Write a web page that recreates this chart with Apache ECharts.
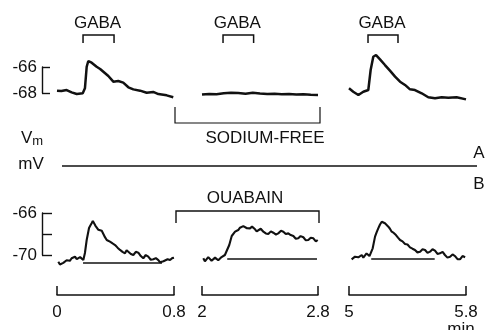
<!DOCTYPE html>
<html><head><meta charset="utf-8">
<script src="https://cdn.jsdelivr.net/npm/echarts@6/dist/echarts.min.js"></script>
<style>html,body{margin:0;padding:0;background:#fff}#c{width:487px;height:330px}</style>
</head><body><div id="c"></div>
<script>
// ---- data (time in min, membrane potential in mV) ----
const segStarts = [0, 2, 5];
const segLabelsB = [[0, 0.8], [2, 2.8], [5, 5.8]];
const gabaWindows = [[0.178, 0.39], [2.145, 2.356], [5.13, 5.335]];
const scaleTicksA = [-68, -66];
const scaleTicksB = [-70, -68, -66];

const traceA1 = [[0,-67.82],[0.03,-67.85],[0.066,-67.77],[0.1,-67.95],[0.135,-68.08],[0.176,-68.02],[0.191,-67.64],[0.203,-65.98],[0.214,-65.54],[0.237,-65.67],[0.271,-65.98],[0.295,-66.15],[0.317,-66.36],[0.351,-66.69],[0.385,-67.13],[0.419,-67.08],[0.453,-67.2],[0.488,-67.56],[0.522,-67.72],[0.568,-67.82],[0.613,-67.98],[0.658,-67.92],[0.693,-68.08],[0.75,-68.18],[0.795,-68.33]];
const traceA2 = [[2.0,-68.12],[2.05,-68.08],[2.1,-68.1],[2.15,-68.02],[2.2,-67.98],[2.25,-68.0],[2.3,-68.05],[2.35,-67.98],[2.4,-68.04],[2.45,-68.08],[2.5,-68.05],[2.55,-68.1],[2.6,-68.07],[2.65,-68.12],[2.7,-68.1],[2.75,-68.14],[2.8,-68.16]];
const traceA3 = [[5.0,-67.64],[5.029,-67.9],[5.064,-68.15],[5.098,-67.9],[5.132,-67.77],[5.148,-66.23],[5.166,-65.21],[5.185,-65.08],[5.212,-65.41],[5.246,-65.85],[5.28,-66.28],[5.315,-66.74],[5.349,-67.13],[5.383,-67.38],[5.417,-67.72],[5.451,-67.77],[5.497,-68.02],[5.542,-68.33],[5.588,-68.41],[5.634,-68.33],[5.679,-68.36],[5.736,-68.33],[5.8,-68.49]];

const traceB1 = [[0.009,-70.64],[0.02,-70.9],[0.032,-71.05],[0.043,-70.75],[0.055,-70.64],[0.066,-70.5],[0.077,-70.41],[0.088,-70.55],[0.1,-70.31],[0.111,-70.2],[0.123,-70.16],[0.135,-70.4],[0.146,-70.38],[0.158,-70.2],[0.169,-70.16],[0.18,-70.48],[0.191,-69.81],[0.203,-68.57],[0.219,-67.43],[0.228,-67.2],[0.237,-66.98],[0.245,-66.75],[0.253,-66.92],[0.262,-67.2],[0.271,-67.3],[0.283,-67.6],[0.294,-67.78],[0.306,-67.7],[0.317,-68.0],[0.328,-68.3],[0.34,-68.57],[0.351,-68.45],[0.362,-68.73],[0.38,-68.9],[0.397,-69.05],[0.414,-69.3],[0.431,-69.52],[0.448,-69.7],[0.465,-69.84],[0.476,-69.55],[0.488,-69.59],[0.505,-69.9],[0.522,-70.0],[0.539,-69.7],[0.556,-69.78],[0.573,-70.1],[0.59,-70.31],[0.607,-70.0],[0.624,-70.16],[0.641,-70.45],[0.659,-70.41],[0.676,-70.3],[0.693,-70.48],[0.705,-70.7],[0.716,-70.86],[0.728,-70.6],[0.739,-70.54],[0.756,-70.4],[0.773,-70.48],[0.787,-70.3],[0.8,-70.26]];
const traceB2 = [[2.009,-70.31],[2.02,-70.6],[2.032,-70.48],[2.043,-70.2],[2.055,-70.26],[2.066,-70.55],[2.078,-70.54],[2.09,-70.25],[2.101,-70.31],[2.112,-70.5],[2.124,-70.41],[2.135,-70.2],[2.147,-70.16],[2.158,-70.0],[2.17,-69.84],[2.188,-69.05],[2.205,-68.19],[2.216,-68.0],[2.228,-67.78],[2.24,-67.9],[2.25,-67.62],[2.262,-67.4],[2.274,-67.46],[2.285,-67.25],[2.297,-67.24],[2.31,-67.45],[2.331,-67.46],[2.345,-67.3],[2.366,-67.55],[2.377,-67.75],[2.388,-67.62],[2.405,-67.5],[2.423,-67.78],[2.44,-67.95],[2.457,-68.0],[2.475,-67.75],[2.492,-67.88],[2.51,-68.05],[2.526,-67.94],[2.545,-67.7],[2.561,-67.78],[2.578,-68.0],[2.595,-67.94],[2.612,-68.1],[2.63,-68.19],[2.647,-68.45],[2.664,-68.41],[2.68,-68.2],[2.699,-68.31],[2.716,-68.6],[2.733,-68.57],[2.75,-68.35],[2.768,-68.41],[2.785,-68.7],[2.798,-68.57]];
const traceB3 = [[5.018,-70.41],[5.03,-70.6],[5.041,-70.16],[5.052,-70.35],[5.064,-70.22],[5.075,-70.05],[5.087,-70.0],[5.098,-70.25],[5.109,-70.1],[5.12,-69.85],[5.132,-69.9],[5.14,-70.1],[5.148,-70.0],[5.162,-69.36],[5.178,-68.25],[5.19,-67.8],[5.2,-67.46],[5.212,-67.1],[5.224,-66.83],[5.235,-66.9],[5.246,-66.98],[5.258,-67.15],[5.269,-67.3],[5.28,-67.5],[5.292,-67.78],[5.306,-67.9],[5.321,-68.1],[5.335,-68.35],[5.349,-68.57],[5.366,-68.7],[5.383,-68.95],[5.4,-69.0],[5.417,-69.27],[5.434,-69.4],[5.451,-69.52],[5.468,-69.75],[5.486,-69.68],[5.503,-69.45],[5.52,-69.52],[5.537,-69.8],[5.554,-69.68],[5.571,-69.45],[5.588,-69.59],[5.605,-69.9],[5.622,-69.84],[5.64,-69.7],[5.656,-70.0],[5.673,-70.25],[5.691,-70.16],[5.708,-69.95],[5.725,-70.1],[5.742,-70.4],[5.759,-70.41],[5.776,-70.1],[5.794,-70.22]];

const baseB1 = [[0.178,-70.76],[0.718,-70.76]];
const baseB2 = [[2.174,-70.38],[2.793,-70.38]];
const baseB3 = [[5.152,-70.38],[5.586,-70.38]];

// ---- layout ----
const FONT = 'Liberation Sans, Arial, sans-serif';
const INK = '#111';
const gx = [[57,117],[202,116],[349,117]];
const grids = [];
gx.forEach(g => grids.push({left:g[0], width:g[1], top:54, height:52}));      // A: -65..-69, 13 px/mV
gx.forEach(g => grids.push({left:g[0], width:g[1], top:192, height:102.9}));  // B: -64..-73.8, 10.5 px/mV
grids.push({left:42, width:10, top:67, height:26});   // scale A
grids.push({left:42, width:10, top:213, height:42});  // scale B

const xAxes = [], yAxes = [];
for (let i = 0; i < 3; i++) {
  xAxes.push({gridIndex:i, type:'value', min:segStarts[i], max:segStarts[i]+0.8, show:false});
  yAxes.push({gridIndex:i, type:'value', min:-69, max:-65, show:false});
}
for (let i = 0; i < 3; i++) {
  xAxes.push({gridIndex:3+i, type:'value', min:segStarts[i], max:segStarts[i]+0.8,
    axisLine:{show:true, lineStyle:{color:INK, width:1.5}},
    axisTick:{show:true, inside:true, length:9, customValues:segLabelsB[i], lineStyle:{color:INK, width:1.5}},
    axisLabel:{show:true, customValues:segLabelsB[i], margin:9, color:INK, fontSize:17, fontFamily:FONT,
      formatter: v => String(Math.round(v*10)/10)},
    splitLine:{show:false}});
  yAxes.push({gridIndex:3+i, type:'value', min:-73.8, max:-64, show:false});
}
xAxes.push({gridIndex:6, type:'value', min:0, max:1, show:false});
xAxes.push({gridIndex:7, type:'value', min:0, max:1, show:false});
yAxes.push({gridIndex:6, type:'value', min:-68, max:-66, interval:2,
  axisLine:{show:true, lineStyle:{color:INK, width:1.4}},
  axisTick:{show:true, inside:true, length:8, customValues:scaleTicksA, lineStyle:{color:INK, width:1.4}},
  axisLabel:{show:true, customValues:scaleTicksA, margin:5, color:INK, fontSize:17, fontFamily:FONT},
  splitLine:{show:false}});
yAxes.push({gridIndex:7, type:'value', min:-70, max:-66, interval:2,
  axisLine:{show:true, lineStyle:{color:INK, width:1.4}},
  axisTick:{show:true, inside:true, length:10, customValues:scaleTicksB, lineStyle:{color:INK, width:1.4}},
  axisLabel:{show:true, customValues:[-70,-66], margin:5, color:INK, fontSize:17, fontFamily:FONT},
  splitLine:{show:false}});

function lineSeries(idx, data, w) {
  return {type:'line', xAxisIndex:idx, yAxisIndex:idx, data:data, symbol:'none', clip:false,
    lineStyle:{color:INK, width:w}, silent:true};
}
const series = [
  lineSeries(0, traceA1, 2.5), lineSeries(1, traceA2, 2.5), lineSeries(2, traceA3, 2.5),
  lineSeries(3, traceB1, 2.1), lineSeries(4, traceB2, 2.1), lineSeries(5, traceB3, 2.1),
  lineSeries(3, baseB1, 1.3), lineSeries(4, baseB2, 1.3), lineSeries(5, baseB3, 1.3)
];
for (let i = 0; i < 3; i++) {
  series.push({type:'custom', xAxisIndex:i, yAxisIndex:i, data:[gabaWindows[i]], clip:false, silent:true,
    encode:{x:[0,1]},
    renderItem: function (params, api) {
      const x1 = api.coord([api.value(0), -66])[0];
      const x2 = api.coord([api.value(1), -66])[0];
      return {type:'group', children:[
        {type:'polyline', shape:{points:[[x1,43],[x1,35],[x2,35],[x2,43]]},
          style:{stroke:INK, lineWidth:1.5, fill:null}},
        {type:'text', x:(x1+x2)/2 - 1, y:23,
          style:{text:'GABA', fill:INK, font:'17px ' + FONT, align:'center', verticalAlign:'middle'}}
      ]};
    }});
}

const txt = (x, y, t, extra) => Object.assign({type:'text', x:x, y:y,
  style:{text:t, fill:INK, font:'17px ' + FONT, align:'center', verticalAlign:'middle'}}, extra || {});
const graphic = [
  {type:'polyline', shape:{points:[[175,107],[175,123],[320,123],[320,107]]}, style:{stroke:INK, lineWidth:1.2, fill:null}},
  txt(265, 138, 'SODIUM-FREE'),
  {type:'polyline', shape:{points:[[176,223],[176,211],[319,211],[319,223]]}, style:{stroke:INK, lineWidth:1.4, fill:null}},
  txt(245, 198, 'OUABAIN'),
  {type:'line', shape:{x1:62, y1:166, x2:477, y2:166}, style:{stroke:INK, lineWidth:1.3}},
  txt(479, 153, 'A'),
  txt(479, 184, 'B'),
  {type:'text', x:32, y:138, style:{text:'{v|V}{m|m}', fill:INK, align:'center', verticalAlign:'middle',
    rich:{v:{fontSize:17, fontFamily:FONT, fill:INK}, m:{fontSize:13, fontFamily:FONT, fill:INK, padding:[6,0,0,0]}}}},
  txt(31, 164, 'mV'),
  txt(461, 329, 'min')
];

const chart = echarts.init(document.getElementById('c'), null, {renderer:'canvas'});
chart.setOption({animation:false, backgroundColor:'#fff', grid:grids, xAxis:xAxes, yAxis:yAxes, series:series, graphic:graphic});
</script></body></html>
